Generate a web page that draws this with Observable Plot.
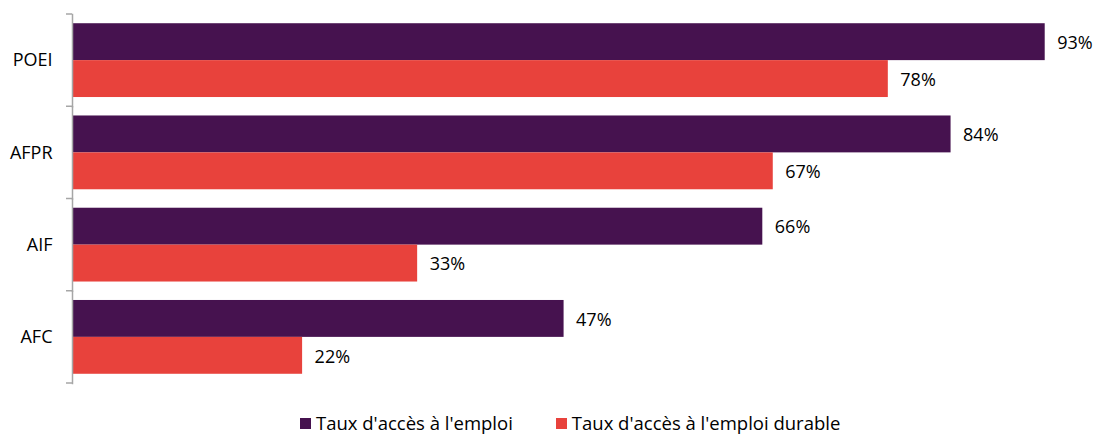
<!DOCTYPE html>
<html>
<head>
<meta charset="utf-8">
<script src="https://cdn.jsdelivr.net/npm/d3@7"></script>
<script src="https://cdn.jsdelivr.net/npm/@observablehq/plot@0.6"></script>
<style>
  html, body { margin: 0; padding: 0; background: #fff; }
  body { width: 1100px; height: 435px; overflow: hidden; font-family: "Open Sans", sans-serif; }
  #chart svg { display: block; }
  #legend { display: flex; align-items: center; margin-left: 300px; margin-top: 11px; font-size: 18.5px; line-height: 24px; color: #000; }
  .item { display: flex; align-items: center; margin-right: 43px; }
  .sw { width: 11px; height: 11px; margin-right: 5px; }
</style>
</head>
<body>
<div id="chart"></div>
<div id="legend"></div>
<script>
const categories = ["POEI", "AFPR", "AIF", "AFC"];
const series = ["Taux d'accès à l'emploi", "Taux d'accès à l'emploi durable"];
const emploi = [0.93, 0.84, 0.66, 0.47];
const durable = [0.78, 0.67, 0.33, 0.22];
const colors = ["#46124f", "#e8423c"];

const data = categories.flatMap((c, i) => [
  {category: c, series: series[0], value: emploi[i]},
  {category: c, series: series[1], value: durable[i]}
]);

const chart = Plot.plot({
  width: 1100,
  height: 400,
  marginTop: 14,
  marginBottom: 17,
  marginLeft: 72,
  marginRight: 3,
  style: {fontFamily: "Open Sans, sans-serif", fontSize: "18px", color: "#000"},
  x: {domain: [0, 0.98], axis: null},
  fy: {domain: categories, padding: 0, round: false, label: null, tickSize: 0, tickPadding: 20, axis: "left"},
  y: {domain: series, paddingInner: 0, paddingOuter: 0.25, round: false, axis: null},
  color: {domain: series, range: colors},
  marks: [
    Plot.barX(data, {fy: "category", y: "series", x: "value", fill: "series"}),
    Plot.text(data, {fy: "category", y: "series", x: "value", text: d => Math.round(d.value * 100) + "%",
      textAnchor: "start", dx: 12, dy: 1, fill: "#000", fontSize: 18}),
    Plot.frame({anchor: "left", stroke: "#a6a6a6", strokeWidth: 1.5})
  ]
});
document.getElementById("chart").append(chart);

// boundary ticks of the category axis, positioned from Plot's fy scale
const fy = chart.scale("fy");
const svg = d3.select(chart);
const bounds = categories.map(c => fy.apply(c)).concat([fy.range[1]]);
svg.append("g").selectAll("line").data(bounds).join("line")
  .attr("x1", 66).attr("x2", 72)
  .attr("y1", d => d).attr("y2", d => d)
  .attr("stroke", "#a6a6a6").attr("stroke-width", 1.5);

const legend = d3.select("#legend");
series.forEach((s, i) => {
  const it = legend.append("div").attr("class", "item");
  it.append("div").attr("class", "sw").style("background", colors[i]);
  it.append("span").text(s);
});
</script>
</body>
</html>
